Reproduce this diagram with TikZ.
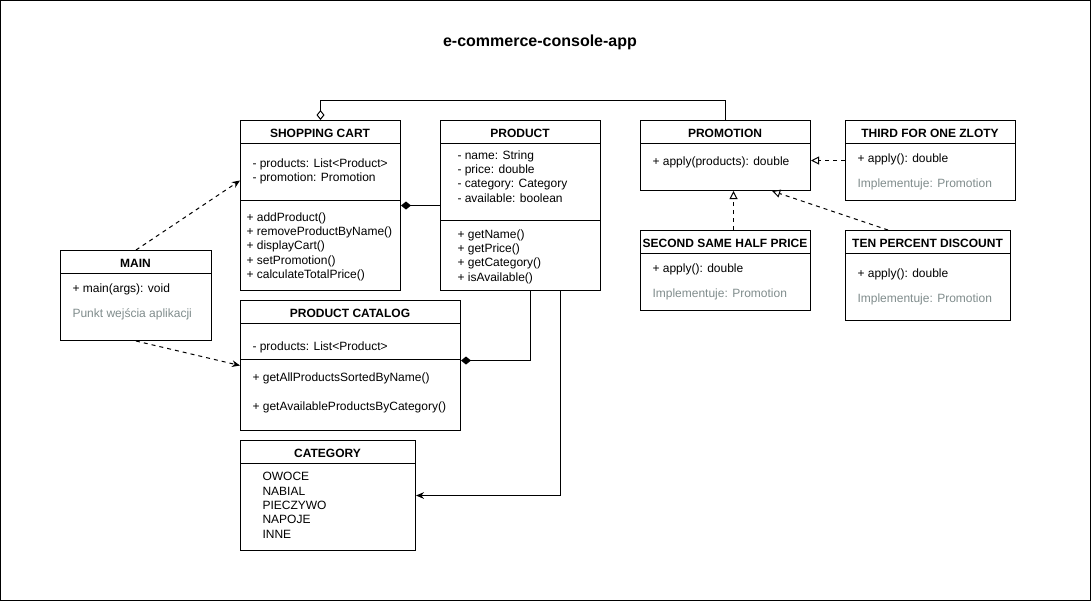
\documentclass[tikz,border=0pt]{standalone}
\usepackage{fontspec}
\setmainfont{Liberation Sans}
\usepackage{tikz}
\usetikzlibrary{arrows.meta,positioning}
\definecolor{notegray}{RGB}{128,140,140}

\begin{document}
\begin{tikzpicture}[x=0.75pt,y=-0.75pt,line width=0.75pt,
  every node/.style={font=\fontsize{9}{10.75}\selectfont},
  cls/.style={draw,rectangle,inner sep=0pt,anchor=north west},
  ttl/.style={font=\fontsize{9}{10.75}\selectfont\bfseries,yshift=-1.1pt},
  txt/.style={anchor=north west,align=left,inner sep=0pt,yshift=-1.1pt},
  note/.style={txt,text=notegray},
  dep/.style={-{Stealth[length=6pt,width=5pt]},dash pattern=on 3pt off 3pt},
  assoc/.style={-{Stealth[length=6pt,width=5pt]}},
  aggr/.style={-{Diamond[open,length=7.5pt,width=6pt]}},
  comp/.style={-{Diamond[length=7.5pt,width=6pt]}},
  real/.style={-{Triangle[open,length=6pt,width=6pt]},dash pattern=on 3pt off 3pt}]
  \useasboundingbox (0,0) rectangle (1091,601);
  \draw (0.5,0.5) rectangle (1090.5,600.5);
  \node[font=\fontsize{12}{14}\selectfont\bfseries] (title) at (540,42.5) {e-commerce-console-app};

  \node[cls,minimum width=120pt,minimum height=127.5pt] (cart) at (240,120) {};
  \draw (240,143) -- (400,143);
  \draw (240,200) -- (400,200);
  \node[ttl] (cartname) at (320,131.5) {SHOPPING CART};
  \node[txt] (cartattr) at (252,156.5) {- products: List<Product>\\- promotion: Promotion};
  \node[txt] (cartops) at (246,210.5) {+ addProduct()\\+ removeProductByName()\\+ displayCart()\\+ setPromotion()\\+ calculateTotalPrice()};

  \node[cls,minimum width=120pt,minimum height=127.5pt] (product) at (440,120) {};
  \draw (440,143) -- (600,143);
  \draw (440,220) -- (600,220);
  \node[ttl] (productname) at (520,131.5) {PRODUCT};
  \node[txt] (productattr) at (457,148.5) {- name: String\\- price: double\\- category: Category\\- available: boolean};
  \node[txt] (productops) at (457,227.5) {+ getName()\\+ getPrice()\\+ getCategory()\\+ isAvailable()};

  \node[cls,minimum width=127.5pt,minimum height=52.5pt] (promo) at (640,120) {};
  \draw (640,143) -- (810,143);
  \node[ttl] (promoname) at (725,131.5) {PROMOTION};
  \node[txt] (promoops) at (652,154.5) {+ apply(products): double};

  \node[cls,minimum width=127.5pt,minimum height=60pt] (third) at (845,120) {};
  \draw (845,143) -- (1015,143);
  \node[ttl] (thirdname) at (930,131.5) {THIRD FOR ONE ZLOTY};
  \node[txt] (thirdops) at (857,151.5) {+ apply(): double};
  \node[note] (thirdnote) at (857,176.5) {Implementuje: Promotion};

  \node[cls,minimum width=127.5pt,minimum height=60pt] (second) at (640,230) {};
  \draw (640,253) -- (810,253);
  \node[ttl] (secondname) at (725,242) {SECOND SAME HALF PRICE};
  \node[txt] (secondops) at (652,261.5) {+ apply(): double};
  \node[note] (secondnote) at (652,286.5) {Implementuje: Promotion};

  \node[cls,minimum width=123.75pt,minimum height=67.5pt] (ten) at (845,230) {};
  \draw (845,253) -- (1010,253);
  \node[ttl] (tenname) at (927.5,242) {TEN PERCENT DISCOUNT};
  \node[txt] (tenops) at (857,266.5) {+ apply(): double};
  \node[note] (tennote) at (857,291.5) {Implementuje: Promotion};

  \node[cls,minimum width=113.25pt,minimum height=67.5pt] (main) at (60,250) {};
  \draw (60,273) -- (211,273);
  \node[ttl] (mainname) at (135.5,262) {MAIN};
  \node[txt] (mainops) at (72,281.5) {+ main(args): void};
  \node[note] (mainnote) at (72,306.5) {Punkt wejścia aplikacji};

  \node[cls,minimum width=165pt,minimum height=97.5pt] (catalog) at (240,300) {};
  \draw (240,323) -- (460,323);
  \draw (240,359) -- (460,359);
  \node[ttl] (catalogname) at (350,312) {PRODUCT CATALOG};
  \node[txt] (catalogattr) at (252,339.5) {- products: List<Product>};
  \node[txt] (catalogopa) at (252,370.5) {+ getAllProductsSortedByName()};
  \node[txt] (catalogopb) at (252,399.5) {+ getAvailableProductsByCategory()};

  \node[cls,minimum width=131.25pt,minimum height=82.5pt] (category) at (240,440) {};
  \draw (240,463) -- (415,463);
  \node[ttl] (categoryname) at (327.5,452) {CATEGORY};
  \node[txt] (categoryvals) at (262,470.5) {OWOCE\\NABIAL\\PIECZYWO\\NAPOJE\\INNE};

  \draw[aggr] (promo.north) -- ++(0,-20) -| (cart.north);
  \draw[comp] (product.west) -- (cart.east);
  \draw[comp] ([xshift=7.5pt]product.south) |- ([yshift=3.75pt]catalog.east);
  \draw[assoc] ([xshift=30pt]product.south) |- (category.east);
  \draw[dep] (main.north) -- ([yshift=18.75pt]cart.west);
  \draw[dep] (main.south) -- (catalog.west);
  \draw[real] (third.west) -- (third.west -| promo.east);
  \draw[real] ([xshift=6pt]second.north) -- ([xshift=6pt]promo.south);
  \draw[real] ([xshift=-30pt]ten.north) -- ([xshift=35pt]promo.south);
\end{tikzpicture}
\end{document}
